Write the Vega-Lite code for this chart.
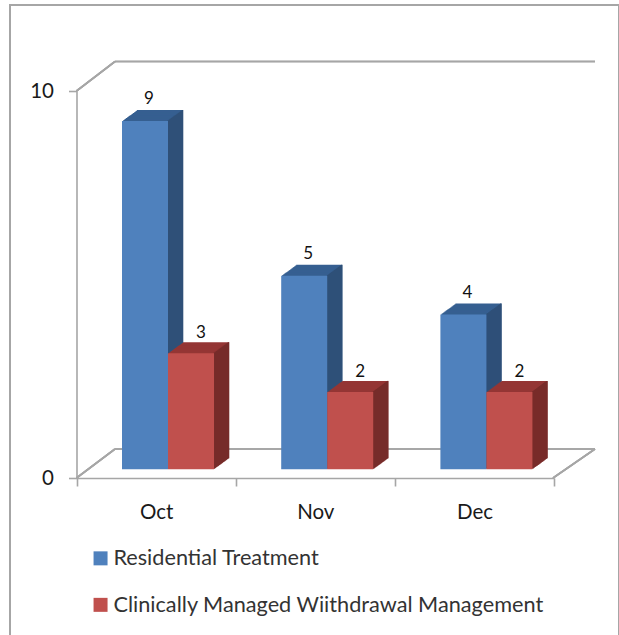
{"$schema":"https://vega.github.io/schema/vega-lite/v6.json","width":609,"height":631,"padding":{"left":10,"top":5,"right":0,"bottom":0},"autosize":"none","background":"white","view":{"stroke":"#a6a6a6","strokeWidth":2,"fill":"white"},"config":{"font":"Lato"},
"datasets":{"res":[{"month":"Oct","series":"Residential Treatment","count":9},{"month":"Nov","series":"Residential Treatment","count":5},{"month":"Dec","series":"Residential Treatment","count":4}],"wd":[{"month":"Oct","series":"Clinically Managed Wiithdrawal Management","count":3},{"month":"Nov","series":"Clinically Managed Wiithdrawal Management","count":2},{"month":"Dec","series":"Clinically Managed Wiithdrawal Management","count":2}]},
"data":{"name":"res"},
"layer":[
{"mark":{"type":"rule","color":"#a6a6a6","strokeWidth":1.6,"xOffset":-41.1,"x2Offset":438.9,"yOffset":-29.5,"y2Offset":-29.5},"encoding":{"x":{"datum":"Oct","type":"nominal"},"x2":{"datum":"Oct"},"y":{"datum":10,"type":"quantitative"},"y2":{"datum":10}}},
{"mark":{"type":"rule","color":"#a6a6a6","strokeWidth":1.6,"xOffset":-79.6,"x2Offset":-41.1,"yOffset":0,"y2Offset":-29.5},"encoding":{"x":{"datum":"Oct","type":"nominal"},"x2":{"datum":"Oct"},"y":{"datum":10,"type":"quantitative"},"y2":{"datum":10}}},
{"mark":{"type":"rule","color":"#a6a6a6","strokeWidth":1.6,"xOffset":-41.1,"x2Offset":438.9,"yOffset":-29,"y2Offset":-29},"encoding":{"x":{"datum":"Oct","type":"nominal"},"x2":{"datum":"Oct"},"y":{"datum":0,"type":"quantitative"},"y2":{"datum":0}}},
{"mark":{"type":"rule","color":"#a6a6a6","strokeWidth":1.6,"xOffset":-79.6,"x2Offset":-41.1,"yOffset":0,"y2Offset":-29},"encoding":{"x":{"datum":"Oct","type":"nominal"},"x2":{"datum":"Oct"},"y":{"datum":0,"type":"quantitative"},"y2":{"datum":0}}},
{"mark":{"type":"rule","color":"#a6a6a6","strokeWidth":1.6,"xOffset":396.9,"x2Offset":438.9,"yOffset":0,"y2Offset":-29},"encoding":{"x":{"datum":"Oct","type":"nominal"},"x2":{"datum":"Oct"},"y":{"datum":0,"type":"quantitative"},"y2":{"datum":0}}},
{"encoding":{
"x":{"field":"month","type":"nominal","sort":["Oct","Nov","Dec"],"title":null,"scale":{"domain":["Oct","Nov","Dec"],"range":[66.5,544.1],"paddingInner":0,"paddingOuter":0},"axis":{"orient":"bottom","offset":-158,"labelAngle":0,"labelAlign":"center","tickBand":"extent","domainColor":"#a6a6a6","domainWidth":1.6,"tickColor":"#a6a6a6","tickWidth":1.6,"tickSize":8,"labelFont":"Lato","labelFontSize":20.5,"labelColor":"#1a1a1a","labelPadding":32,"labelBaseline":"alphabetic","labelFlush":false}},
"y":{"field":"count","type":"quantitative","stack":null,"title":null,"scale":{"domain":[0,10],"range":[473,86],"nice":false,"zero":true},"axis":{"orient":"left","offset":-66.5,"values":[0,10],"format":"d","grid":false,"domainColor":"#a6a6a6","domainWidth":1.6,"tickColor":"#a6a6a6","tickWidth":1.6,"tickSize":8,"labelFont":"Lato","labelFontSize":20.5,"labelColor":"#1a1a1a","labelPadding":15}},
"y2":{"datum":0}
},"layer":[
{"mark":{"type":"bar","width":46,"color":"#365f91","xOffset":3.9,"yOffset":-19.7,"y2Offset":-19.7}},
{"mark":{"type":"bar","width":46,"color":"#365f91","xOffset":2.9,"yOffset":-18.96,"y2Offset":-18.96}},
{"mark":{"type":"bar","width":46,"color":"#365f91","xOffset":1.9,"yOffset":-18.23,"y2Offset":-18.23}},
{"mark":{"type":"bar","width":46,"color":"#365f91","xOffset":0.9,"yOffset":-17.5,"y2Offset":-17.5}},
{"mark":{"type":"bar","width":46,"color":"#365f91","xOffset":-0.1,"yOffset":-16.76,"y2Offset":-16.76}},
{"mark":{"type":"bar","width":46,"color":"#365f91","xOffset":-1.1,"yOffset":-16.03,"y2Offset":-16.03}},
{"mark":{"type":"bar","width":46,"color":"#365f91","xOffset":-2.1,"yOffset":-15.3,"y2Offset":-15.3}},
{"mark":{"type":"bar","width":46,"color":"#365f91","xOffset":-3.1,"yOffset":-14.56,"y2Offset":-14.56}},
{"mark":{"type":"bar","width":46,"color":"#365f91","xOffset":-4.1,"yOffset":-13.83,"y2Offset":-13.83}},
{"mark":{"type":"bar","width":46,"color":"#365f91","xOffset":-5.1,"yOffset":-13.1,"y2Offset":-13.1}},
{"mark":{"type":"bar","width":46,"color":"#365f91","xOffset":-6.1,"yOffset":-12.37,"y2Offset":-12.37}},
{"mark":{"type":"bar","width":46,"color":"#365f91","xOffset":-7.1,"yOffset":-11.63,"y2Offset":-11.63}},
{"mark":{"type":"bar","width":46,"color":"#365f91","xOffset":-8.1,"yOffset":-10.9,"y2Offset":-10.9}},
{"mark":{"type":"bar","width":46,"color":"#365f91","xOffset":-9.1,"yOffset":-10.17,"y2Offset":-10.17}},
{"mark":{"type":"bar","width":46,"color":"#365f91","xOffset":-10.1,"yOffset":-9.43,"y2Offset":-9.43}},
{"mark":{"type":"bar","width":1.6,"color":"#2f5078","xOffset":26.4,"yOffset":-19.7,"y2Offset":-19.7}},
{"mark":{"type":"bar","width":1.6,"color":"#2f5078","xOffset":25.4,"yOffset":-18.96,"y2Offset":-18.96}},
{"mark":{"type":"bar","width":1.6,"color":"#2f5078","xOffset":24.4,"yOffset":-18.23,"y2Offset":-18.23}},
{"mark":{"type":"bar","width":1.6,"color":"#2f5078","xOffset":23.4,"yOffset":-17.5,"y2Offset":-17.5}},
{"mark":{"type":"bar","width":1.6,"color":"#2f5078","xOffset":22.4,"yOffset":-16.76,"y2Offset":-16.76}},
{"mark":{"type":"bar","width":1.6,"color":"#2f5078","xOffset":21.4,"yOffset":-16.03,"y2Offset":-16.03}},
{"mark":{"type":"bar","width":1.6,"color":"#2f5078","xOffset":20.4,"yOffset":-15.3,"y2Offset":-15.3}},
{"mark":{"type":"bar","width":1.6,"color":"#2f5078","xOffset":19.4,"yOffset":-14.56,"y2Offset":-14.56}},
{"mark":{"type":"bar","width":1.6,"color":"#2f5078","xOffset":18.4,"yOffset":-13.83,"y2Offset":-13.83}},
{"mark":{"type":"bar","width":1.6,"color":"#2f5078","xOffset":17.4,"yOffset":-13.1,"y2Offset":-13.1}},
{"mark":{"type":"bar","width":1.6,"color":"#2f5078","xOffset":16.4,"yOffset":-12.37,"y2Offset":-12.37}},
{"mark":{"type":"bar","width":1.6,"color":"#2f5078","xOffset":15.4,"yOffset":-11.63,"y2Offset":-11.63}},
{"mark":{"type":"bar","width":1.6,"color":"#2f5078","xOffset":14.4,"yOffset":-10.9,"y2Offset":-10.9}},
{"mark":{"type":"bar","width":1.6,"color":"#2f5078","xOffset":13.4,"yOffset":-10.17,"y2Offset":-10.17}},
{"mark":{"type":"bar","width":1.6,"color":"#2f5078","xOffset":12.4,"yOffset":-9.43,"y2Offset":-9.43}},
{"mark":{"type":"bar","width":46,"xOffset":-11.1,"yOffset":-8.7,"y2Offset":-8.7},"encoding":{"color":{"field":"series","type":"nominal","scale":{"domain":["Residential Treatment","Clinically Managed Wiithdrawal Management"],"range":["#4f81bd","#c0504d"]},"legend":{"title":null,"orient":"none","legendX":79.7,"legendY":542.5,"symbolType":"square","symbolSize":196,"symbolStrokeWidth":0,"labelFont":"Lato","labelFontSize":21.7,"labelColor":"#333333","rowPadding":23.5,"labelOffset":2,"labelLimit":500,"direction":"vertical"}}}},
{"data":{"name":"wd"},"mark":{"type":"bar","width":46,"color":"#943634","xOffset":49.9,"yOffset":-19.7,"y2Offset":-19.7}},
{"data":{"name":"wd"},"mark":{"type":"bar","width":46,"color":"#943634","xOffset":48.9,"yOffset":-18.96,"y2Offset":-18.96}},
{"data":{"name":"wd"},"mark":{"type":"bar","width":46,"color":"#943634","xOffset":47.9,"yOffset":-18.23,"y2Offset":-18.23}},
{"data":{"name":"wd"},"mark":{"type":"bar","width":46,"color":"#943634","xOffset":46.9,"yOffset":-17.5,"y2Offset":-17.5}},
{"data":{"name":"wd"},"mark":{"type":"bar","width":46,"color":"#943634","xOffset":45.9,"yOffset":-16.76,"y2Offset":-16.76}},
{"data":{"name":"wd"},"mark":{"type":"bar","width":46,"color":"#943634","xOffset":44.9,"yOffset":-16.03,"y2Offset":-16.03}},
{"data":{"name":"wd"},"mark":{"type":"bar","width":46,"color":"#943634","xOffset":43.9,"yOffset":-15.3,"y2Offset":-15.3}},
{"data":{"name":"wd"},"mark":{"type":"bar","width":46,"color":"#943634","xOffset":42.9,"yOffset":-14.56,"y2Offset":-14.56}},
{"data":{"name":"wd"},"mark":{"type":"bar","width":46,"color":"#943634","xOffset":41.9,"yOffset":-13.83,"y2Offset":-13.83}},
{"data":{"name":"wd"},"mark":{"type":"bar","width":46,"color":"#943634","xOffset":40.9,"yOffset":-13.1,"y2Offset":-13.1}},
{"data":{"name":"wd"},"mark":{"type":"bar","width":46,"color":"#943634","xOffset":39.9,"yOffset":-12.37,"y2Offset":-12.37}},
{"data":{"name":"wd"},"mark":{"type":"bar","width":46,"color":"#943634","xOffset":38.9,"yOffset":-11.63,"y2Offset":-11.63}},
{"data":{"name":"wd"},"mark":{"type":"bar","width":46,"color":"#943634","xOffset":37.9,"yOffset":-10.9,"y2Offset":-10.9}},
{"data":{"name":"wd"},"mark":{"type":"bar","width":46,"color":"#943634","xOffset":36.9,"yOffset":-10.17,"y2Offset":-10.17}},
{"data":{"name":"wd"},"mark":{"type":"bar","width":46,"color":"#943634","xOffset":35.9,"yOffset":-9.43,"y2Offset":-9.43}},
{"data":{"name":"wd"},"mark":{"type":"bar","width":1.6,"color":"#772c2a","xOffset":72.4,"yOffset":-19.7,"y2Offset":-19.7}},
{"data":{"name":"wd"},"mark":{"type":"bar","width":1.6,"color":"#772c2a","xOffset":71.4,"yOffset":-18.96,"y2Offset":-18.96}},
{"data":{"name":"wd"},"mark":{"type":"bar","width":1.6,"color":"#772c2a","xOffset":70.4,"yOffset":-18.23,"y2Offset":-18.23}},
{"data":{"name":"wd"},"mark":{"type":"bar","width":1.6,"color":"#772c2a","xOffset":69.4,"yOffset":-17.5,"y2Offset":-17.5}},
{"data":{"name":"wd"},"mark":{"type":"bar","width":1.6,"color":"#772c2a","xOffset":68.4,"yOffset":-16.76,"y2Offset":-16.76}},
{"data":{"name":"wd"},"mark":{"type":"bar","width":1.6,"color":"#772c2a","xOffset":67.4,"yOffset":-16.03,"y2Offset":-16.03}},
{"data":{"name":"wd"},"mark":{"type":"bar","width":1.6,"color":"#772c2a","xOffset":66.4,"yOffset":-15.3,"y2Offset":-15.3}},
{"data":{"name":"wd"},"mark":{"type":"bar","width":1.6,"color":"#772c2a","xOffset":65.4,"yOffset":-14.56,"y2Offset":-14.56}},
{"data":{"name":"wd"},"mark":{"type":"bar","width":1.6,"color":"#772c2a","xOffset":64.4,"yOffset":-13.83,"y2Offset":-13.83}},
{"data":{"name":"wd"},"mark":{"type":"bar","width":1.6,"color":"#772c2a","xOffset":63.4,"yOffset":-13.1,"y2Offset":-13.1}},
{"data":{"name":"wd"},"mark":{"type":"bar","width":1.6,"color":"#772c2a","xOffset":62.4,"yOffset":-12.37,"y2Offset":-12.37}},
{"data":{"name":"wd"},"mark":{"type":"bar","width":1.6,"color":"#772c2a","xOffset":61.4,"yOffset":-11.63,"y2Offset":-11.63}},
{"data":{"name":"wd"},"mark":{"type":"bar","width":1.6,"color":"#772c2a","xOffset":60.4,"yOffset":-10.9,"y2Offset":-10.9}},
{"data":{"name":"wd"},"mark":{"type":"bar","width":1.6,"color":"#772c2a","xOffset":59.4,"yOffset":-10.17,"y2Offset":-10.17}},
{"data":{"name":"wd"},"mark":{"type":"bar","width":1.6,"color":"#772c2a","xOffset":58.4,"yOffset":-9.43,"y2Offset":-9.43}},
{"data":{"name":"wd"},"mark":{"type":"bar","width":46,"xOffset":34.9,"yOffset":-8.7,"y2Offset":-8.7},"encoding":{"color":{"field":"series","type":"nominal","scale":{"domain":["Residential Treatment","Clinically Managed Wiithdrawal Management"],"range":["#4f81bd","#c0504d"]}}}},
{"mark":{"type":"text","font":"Lato","fontSize":17,"color":"#111111","xOffset":-7.1,"yOffset":-30.7},"encoding":{"y2":null,"text":{"field":"count","type":"quantitative"}}},
{"data":{"name":"wd"},"mark":{"type":"text","font":"Lato","fontSize":17,"color":"#111111","xOffset":44.9,"yOffset":-29},"encoding":{"y2":null,"text":{"field":"count","type":"quantitative"}}}
]}
]}
